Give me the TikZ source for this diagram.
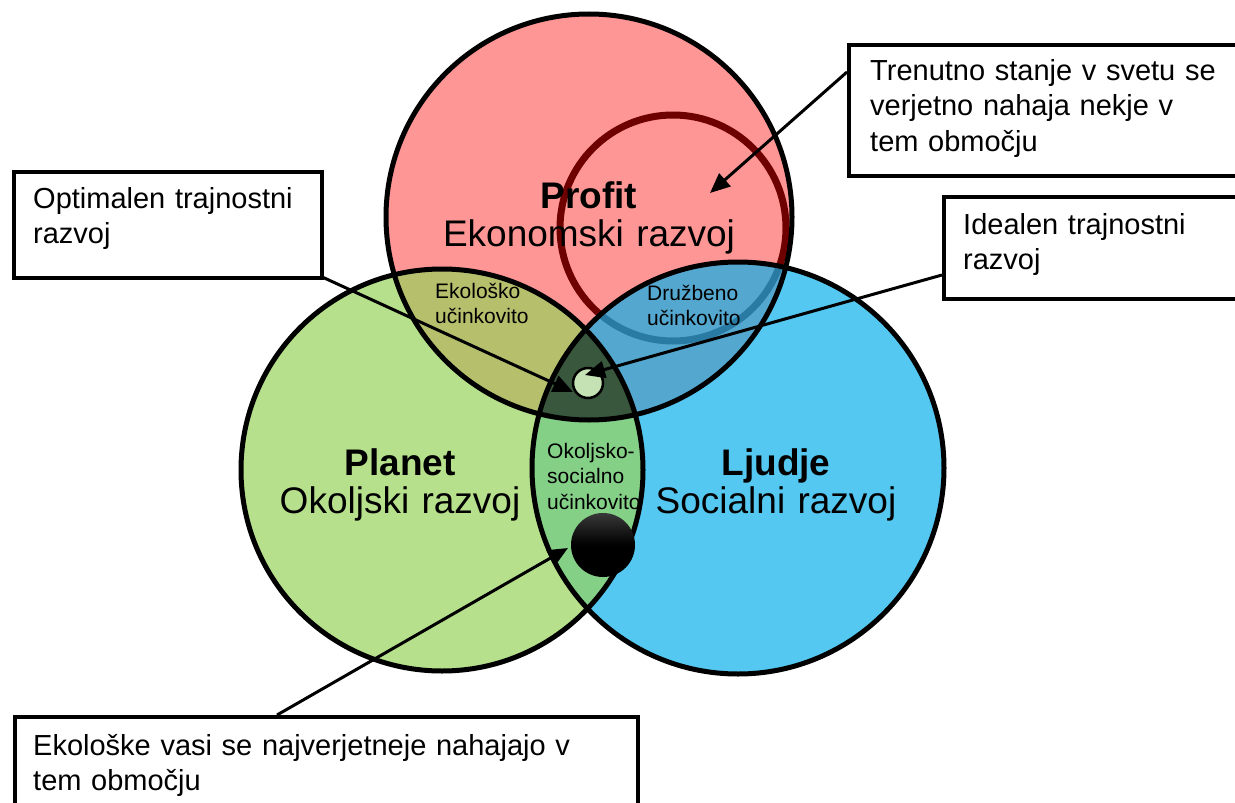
\documentclass[tikz,border=0pt]{standalone}
\usepackage{fontspec}
\setmainfont{Liberation Sans}
\usetikzlibrary{arrows.meta}
\definecolor{redc}{RGB}{255,150,150}
\definecolor{ringc}{RGB}{110,0,0}
\definecolor{bluec}{RGB}{12,176,233}
\definecolor{greenc}{RGB}{152,211,91}
\definecolor{centerc}{RGB}{57,87,61}
\definecolor{smallc}{RGB}{197,226,180}
\tikzset{
  outline/.style={draw=black, line width=5pt},
  boxst/.style={draw=black, line width=4pt, fill=white, rectangle, inner sep=0pt},
  boxtxt/.style={inner sep=0pt, anchor=base west, align=left, text width=#1,
    font=\fontsize{29pt}{35.5pt}\selectfont},
  bigtxt/.style={inner sep=0pt, anchor=base, align=center, text width=340pt,
    font=\fontsize{37pt}{38.5pt}\selectfont},
  smalltxt/.style={inner sep=0pt, anchor=base west, align=left, text width=120pt,
    font=\fontsize{21pt}{25.5pt}\selectfont},
  arr/.style={draw=black, line width=3pt, -{Triangle[length=20pt,width=17pt]}},
}
\begin{document}
\begin{tikzpicture}[x=1pt,y=-1pt]
\useasboundingbox (0,0) rectangle (1235,803);
\clip (0,0) rectangle (1235,803);
% circle fills
\fill[redc] (589,217) circle[radius=203pt];
\draw[ringc, line width=7pt] (673,228) circle[radius=113pt];
\fill[bluec, fill opacity=0.7] (738,468) circle[radius=206pt];
\fill[greenc, fill opacity=0.7] (442,470) circle[radius=201pt];
\begin{scope}
  \clip (589,217) circle[radius=203pt];
  \clip (442,470) circle[radius=201pt];
  \fill[centerc] (738,468) circle[radius=206pt];
\end{scope}
% outlines
\draw[outline] (589,217) circle[radius=203pt];
\draw[outline] (738,468) circle[radius=206pt];
\draw[outline] (442,470) circle[radius=201pt];
% markers
\node[circle, draw=black, line width=2.5pt, fill=smallc, minimum size=30pt, inner sep=0pt] (opt) at (588,383) {};
\node[circle, draw=none, top color=black!78, bottom color=black, middle color=black, minimum size=64pt, inner sep=0pt] (eco) at (603,545) {};
% labels
\node[bigtxt] (lprofit) at (589,208) {\textbf{Profit}\\Ekonomski razvoj};
\node[bigtxt] (lplanet) at (400,475) {\textbf{Planet}\\Okoljski razvoj};
\node[bigtxt] (lljudje) at (776,475) {\textbf{Ljudje}\\Socialni razvoj};
\node[smalltxt] (leko) at (435,298) {Ekološko\\učinkovito};
\node[smalltxt] (ldru) at (647,300) {Družbeno\\učinkovito};
\node[smalltxt] (lokso) at (547,458) {Okoljsko-\\socialno\\učinkovito};
% boxes
\node[boxst, minimum width=398pt, minimum height=131pt, anchor=north west] (trbox) at (847,43) {};
\node[boxtxt=360pt] (trtxt) at (870,80) {Trenutno stanje v svetu se\\verjetno nahaja nekje v\\tem območju};
\node[boxst, minimum width=308pt, minimum height=106pt, anchor=north west] (optbox) at (12,170) {};
\node[boxtxt=285pt] (opttxt) at (33,208) {Optimalen trajnostni\\razvoj};
\node[boxst, minimum width=303pt, minimum height=102pt, anchor=north west] (idbox) at (942,195) {};
\node[boxtxt=280pt] (idtxt) at (963,234) {Idealen trajnostni\\razvoj};
\node[boxst, minimum width=623pt, minimum height=110pt, anchor=north west] (ecobox) at (13,715) {};
\node[boxtxt=600pt] (ecotxt) at (33,755) {Ekološke vasi se najverjetneje nahajajo v\\tem območju};
% arrows
\coordinate (trs) at (847,72);
\coordinate (trt) at (710,193);
\coordinate (opts) at (320,276);
\coordinate (optt) at (573,392);
\coordinate (ids) at (942,275);
\coordinate (idt) at (585,375);
\coordinate (ecos) at (277,715);
\coordinate (ecot) at (568,548);
\draw[arr] (trs) -- (trt);
\draw[arr] (opts) -- (optt);
\draw[arr] (ids) -- (idt);
\draw[arr] (ecos) -- (ecot);
\end{tikzpicture}
\end{document}
